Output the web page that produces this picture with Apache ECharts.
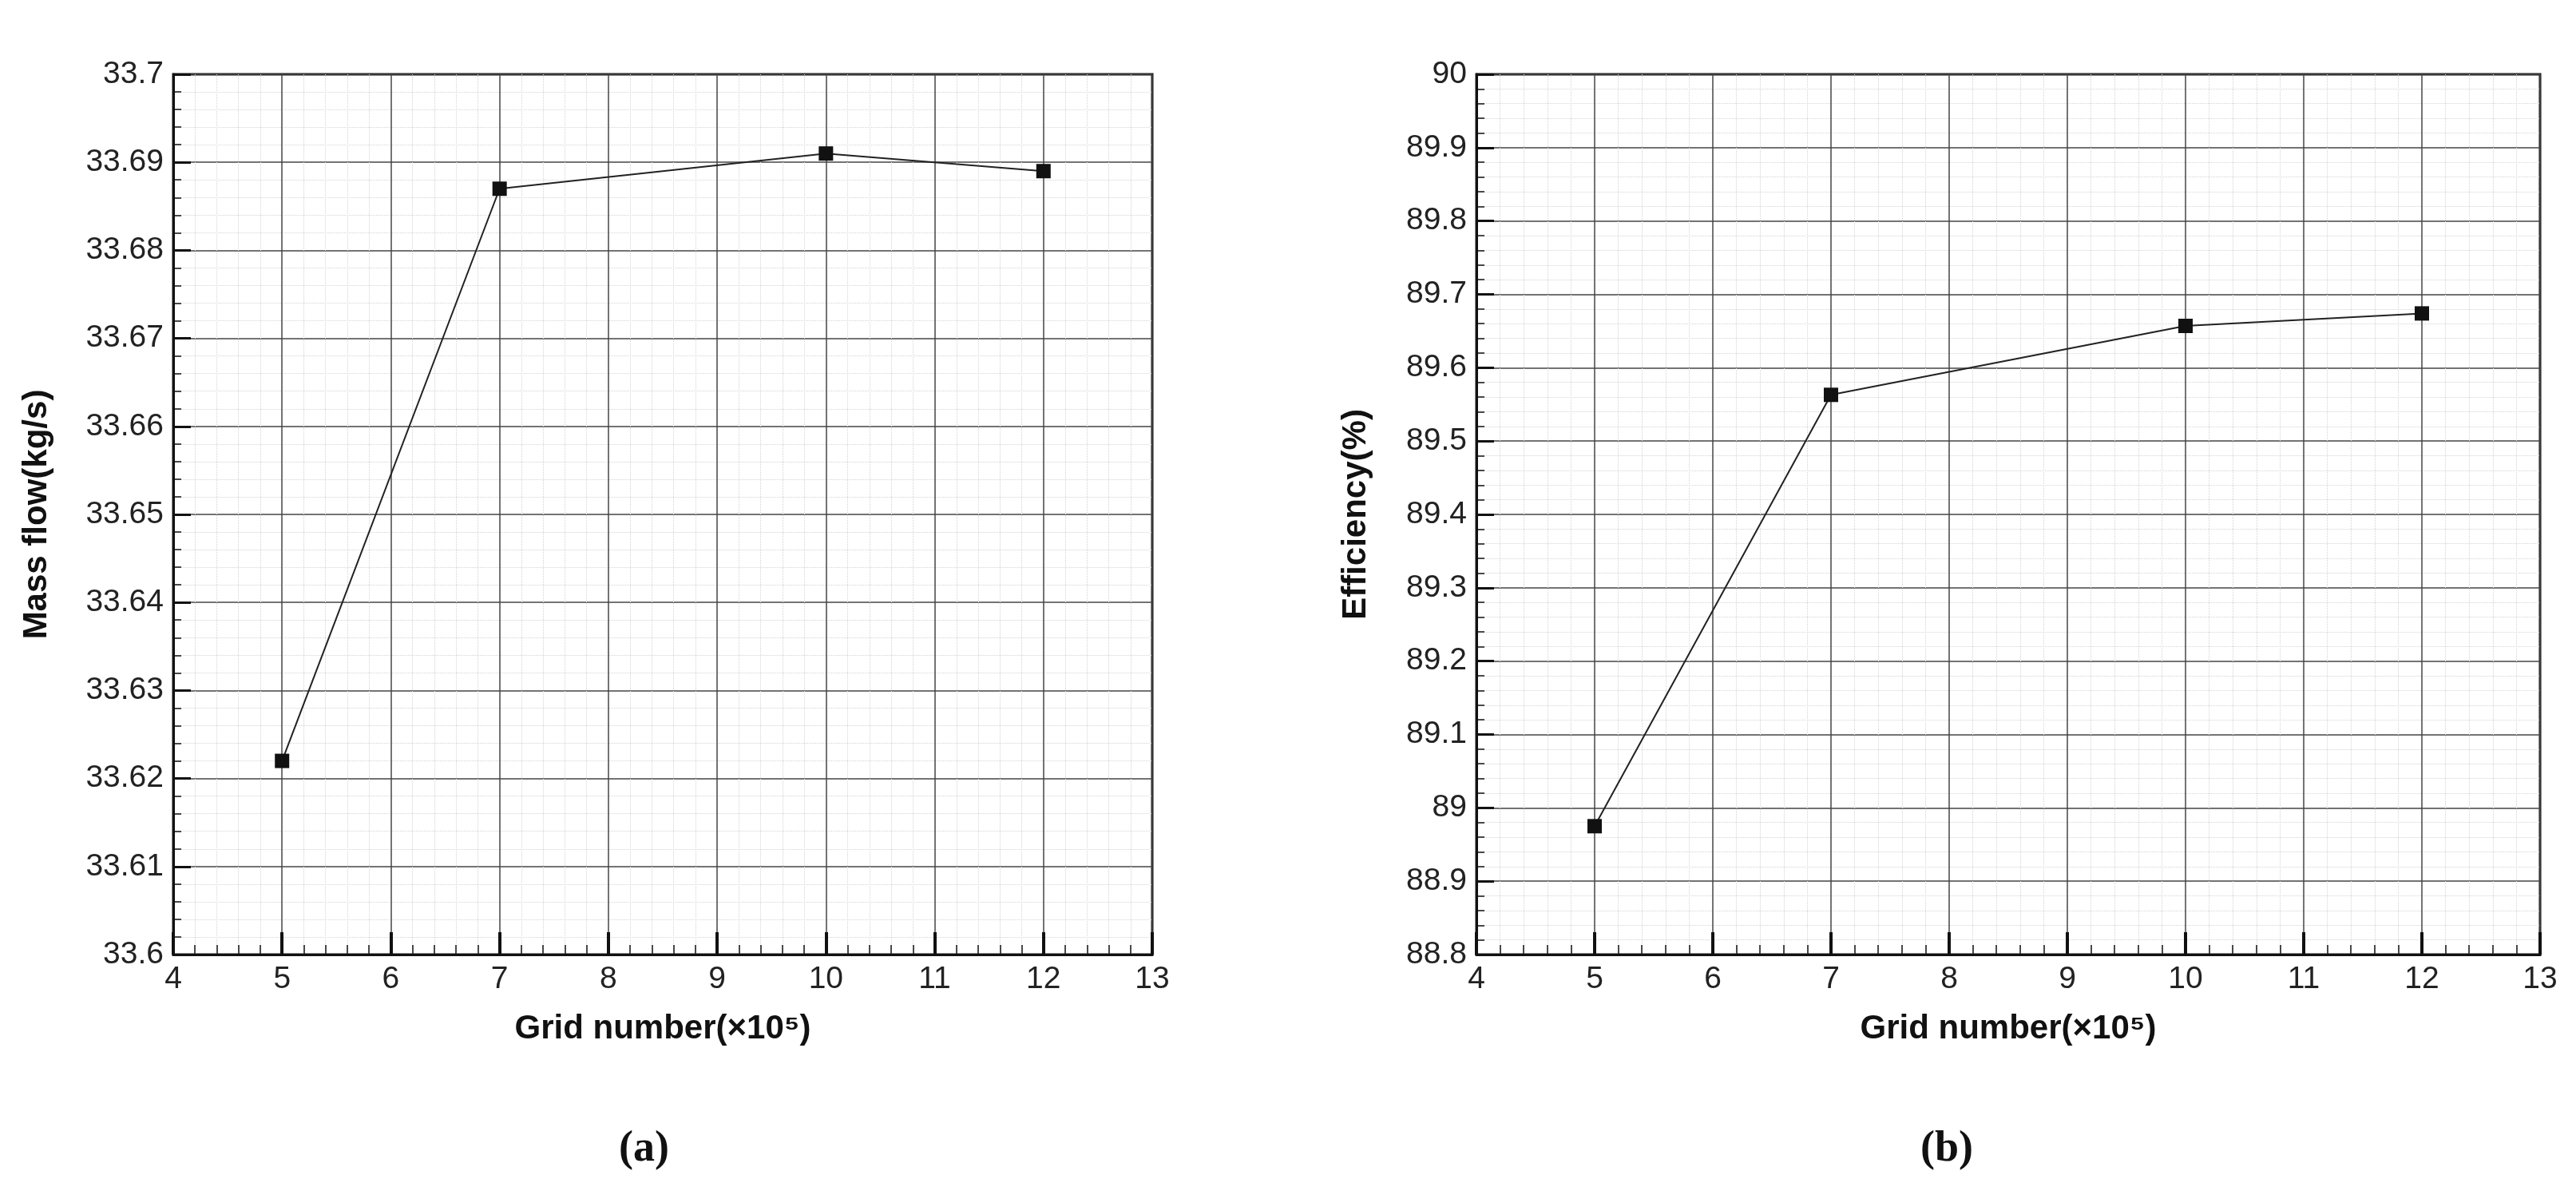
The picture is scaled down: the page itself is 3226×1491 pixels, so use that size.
<!DOCTYPE html>
<html><head><meta charset="utf-8">
<script src="https://cdn.jsdelivr.net/npm/echarts@6/dist/echarts.min.js"></script>
<style>html,body{margin:0;background:#fff}#c{width:3226px;height:1491px}</style>
</head><body><div id="c"></div>
<script>
const gridX = [5, 7, 10, 12];
const massFlow = [33.622, 33.687, 33.691, 33.689];
const efficiency = [88.975, 89.563, 89.657, 89.674];
const xTitle = 'Grid number(×10⁵)';
const yTitleA = 'Mass flow(kg/s)';
const yTitleB = 'Efficiency(%)';

const chart = echarts.init(document.getElementById('c'));
const F = 'Liberation Sans, Arial, sans-serif';
function xAxis(i){return {gridIndex:i,type:'value',min:4,max:13,interval:1,
  name:xTitle,nameLocation:'middle',nameGap:72,
  nameTextStyle:{fontFamily:F,fontSize:42,fontWeight:'bold',color:'#111'},
  axisLine:{onZero:false,lineStyle:{color:'#111',width:3}},
  axisTick:{inside:true,length:28,lineStyle:{color:'#111',width:4}},
  minorTick:{show:true,splitNumber:5,length:12,lineStyle:{color:'#111',width:1.5}},
  axisLabel:{fontFamily:F,fontSize:39,color:'#222',margin:12},
  splitLine:{show:true,lineStyle:{color:'#444',width:1.5}},
  minorSplitLine:{show:true,lineStyle:{color:'#d4d4d4',type:'dotted',width:1}}};}
function yAxis(i,min,max,iv,name){return {gridIndex:i,type:'value',min:min,max:max,interval:iv,
  name:name,nameLocation:'middle',nameGap:i===0?150:130,
  nameTextStyle:{fontFamily:F,fontSize:42,fontWeight:'bold',color:'#111'},
  axisLine:{lineStyle:{color:'#111',width:3}},
  axisTick:{inside:true,length:22,lineStyle:{color:'#111',width:3}},
  minorTick:{show:true,splitNumber:5,length:10,lineStyle:{color:'#111',width:1.5}},
  axisLabel:{fontFamily:F,fontSize:39,color:'#222',margin:12,
    formatter:v=>String(parseFloat(v.toFixed(3)))},
  splitLine:{show:true,lineStyle:{color:'#444',width:1.5}},
  minorSplitLine:{show:true,lineStyle:{color:'#d4d4d4',type:'dotted',width:1}}};}
chart.setOption({
  animation:false,
  grid:[{left:217,top:93,width:1226,height:1102,show:true,borderColor:'#111',borderWidth:3},
        {left:1849,top:93,width:1332,height:1102,show:true,borderColor:'#111',borderWidth:3}],
  xAxis:[xAxis(0),xAxis(1)],
  yAxis:[yAxis(0,33.6,33.7,0.01,yTitleA),yAxis(1,88.8,90,0.1,yTitleB)],
  graphic:[
    {type:'text',left:775,top:1412,style:{text:'(a)',fontFamily:'Liberation Serif',fontSize:54,fontWeight:'bold',fill:'#111'}},
    {type:'text',left:2405,top:1412,style:{text:'(b)',fontFamily:'Liberation Serif',fontSize:54,fontWeight:'bold',fill:'#111'}}
  ],
  series:[
    {type:'line',xAxisIndex:0,yAxisIndex:0,data:gridX.map((x,i)=>[x,massFlow[i]]),
     symbol:'rect',symbolSize:18,itemStyle:{color:'#111'},lineStyle:{color:'#222',width:2}},
    {type:'line',xAxisIndex:1,yAxisIndex:1,data:gridX.map((x,i)=>[x,efficiency[i]]),
     symbol:'rect',symbolSize:18,itemStyle:{color:'#111'},lineStyle:{color:'#222',width:2}}
  ]
});
</script></body></html>
